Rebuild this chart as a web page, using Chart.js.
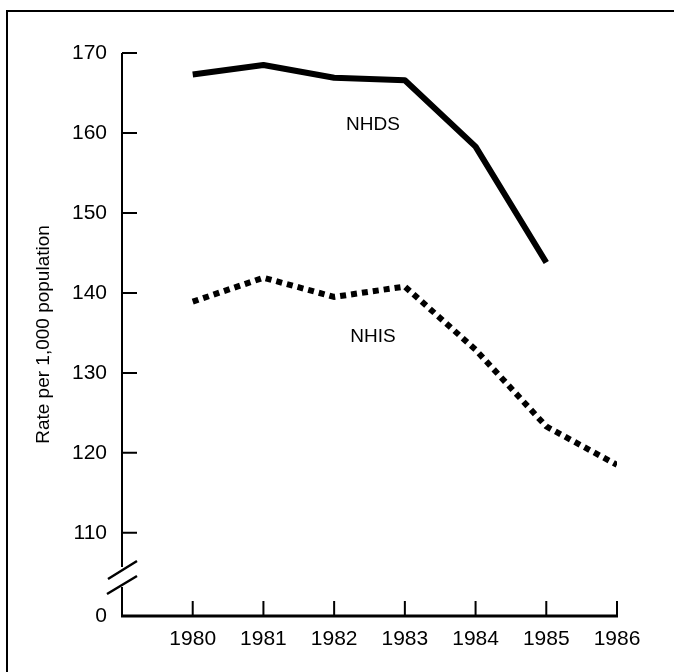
<!DOCTYPE html>
<html>
<head>
<meta charset="utf-8">
<script src="https://cdn.jsdelivr.net/npm/chart.js@4.4.1/dist/chart.umd.min.js"></script>
<style>
  html, body { margin: 0; padding: 0; background: #fff; }
  #wrap { width: 674px; height: 672px; position: relative; }
</style>
</head>
<body>
<div id="wrap"><canvas id="chartCanvas"></canvas></div>
<script>
const years = [1980, 1981, 1982, 1983, 1984, 1985, 1986];
const nhds = [167.3, 168.5, 166.9, 166.6, 158.3, 143.8, null];
const nhis = [138.9, 141.9, 139.5, 140.8, 132.9, 123.3, 118.5];
const yTicks = [110, 120, 130, 140, 150, 160, 170];
const yZero = 99.6; // where the broken axis shows "0"
const seriesLabels = [
  { text: "NHDS", x: 1982.55, y: 161 },
  { text: "NHIS", x: 1982.55, y: 134.5 },
];

const FONT = "'Liberation Sans', Arial, Helvetica, sans-serif";
const ink = "#000";

// axes, ticks, axis break, frame and series names
const axisPlugin = {
  id: "axisPlugin",
  afterDraw(chart) {
    const { ctx, scales } = chart;
    const x = scales.x;
    const y = scales.y;
    const x0 = x.getPixelForValue(1979);
    const yBase = y.getPixelForValue(yZero);
    ctx.save();
    ctx.strokeStyle = ink;
    ctx.lineCap = "butt";

    // outer frame (cropped at right and bottom)
    ctx.lineWidth = 2;
    ctx.strokeRect(7, 11, 700, 700);

    // y axis with a gap for the break
    const breakTop = yBase - 49;
    const breakBottom = yBase - 29;
    ctx.lineWidth = 2;
    ctx.beginPath();
    ctx.moveTo(x0, y.getPixelForValue(170));
    ctx.lineTo(x0, breakTop);
    ctx.moveTo(x0, breakBottom);
    ctx.lineTo(x0, yBase);
    ctx.stroke();

    // break slashes
    ctx.lineWidth = 2.5;
    ctx.beginPath();
    ctx.moveTo(x0 - 14, breakTop + 12);
    ctx.lineTo(x0 + 15, breakTop - 6);
    ctx.moveTo(x0 - 15, breakBottom + 7);
    ctx.lineTo(x0 + 15, breakBottom - 11);
    ctx.stroke();

    // y ticks pointing inward
    ctx.lineWidth = 2;
    ctx.beginPath();
    yTicks.forEach((v) => {
      const py = y.getPixelForValue(v);
      ctx.moveTo(x0, py);
      ctx.lineTo(x0 + 15, py);
    });
    ctx.stroke();

    // x axis
    const xEnd = x.getPixelForValue(1986);
    ctx.lineWidth = 3;
    ctx.beginPath();
    ctx.moveTo(x0 - 1, yBase);
    ctx.lineTo(xEnd + 1, yBase);
    ctx.stroke();
    ctx.lineWidth = 2;
    ctx.beginPath();
    years.forEach((yr) => {
      const px = x.getPixelForValue(yr);
      ctx.moveTo(px, yBase);
      ctx.lineTo(px, yBase - 15);
    });
    ctx.stroke();

    // series names
    ctx.fillStyle = ink;
    ctx.font = "19px " + FONT;
    ctx.textAlign = "center";
    ctx.textBaseline = "middle";
    seriesLabels.forEach((l) => {
      ctx.fillText(l.text, x.getPixelForValue(l.x), y.getPixelForValue(l.y));
    });
    ctx.restore();
  },
};

new Chart(document.getElementById("chartCanvas"), {
  type: "line",
  data: {
    labels: years,
    datasets: [
      {
        label: "NHDS",
        data: years.map((yr, i) => ({ x: yr, y: nhds[i] })),
        borderColor: ink,
        borderWidth: 6,
        borderJoinStyle: "round",
        pointRadius: 0,
        tension: 0,
      },
      {
        label: "NHIS",
        data: years.map((yr, i) => ({ x: yr, y: nhis[i] })),
        borderColor: ink,
        borderWidth: 6,
        borderDash: [6, 5],
        borderCapStyle: "butt",
        pointRadius: 0,
        tension: 0,
      },
    ],
  },
  options: {
    responsive: true,
    maintainAspectRatio: false,
    animation: false,
    layout: { padding: { left: 0, top: 53, right: 57, bottom: 0 } },
    plugins: { legend: { display: false }, tooltip: { enabled: false } },
    scales: {
      x: {
        type: "linear",
        min: 1979,
        max: 1986,
        afterBuildTicks: (scale) => {
          scale.ticks = years.map((v) => ({ value: v }));
        },
        afterFit: (scale) => {
          scale.height = 56;
        },
        grid: { display: false, drawTicks: false },
        border: { display: false },
        ticks: {
          color: ink,
          padding: 11,
          maxRotation: 0,
          autoSkip: false,
          font: { family: FONT, size: 21 },
          callback: (v) => String(v),
        },
      },
      y: {
        type: "linear",
        min: yZero,
        max: 170,
        afterBuildTicks: (scale) => {
          scale.ticks = [yZero, ...yTicks].map((v) => ({ value: v }));
        },
        afterFit: (scale) => {
          scale.width = 122;
        },
        grid: { display: false, drawTicks: false },
        border: { display: false },
        ticks: {
          color: ink,
          padding: 15,
          autoSkip: false,
          font: { family: FONT, size: 21 },
          callback: (v) => (v < 105 ? "0" : String(v)),
        },
        title: {
          display: true,
          text: "Rate per 1,000 population",
          color: ink,
          padding: { top: 32, bottom: 0 },
          font: { family: FONT, size: 19 },
        },
      },
    },
  },
  plugins: [axisPlugin],
});
</script>
</body>
</html>
